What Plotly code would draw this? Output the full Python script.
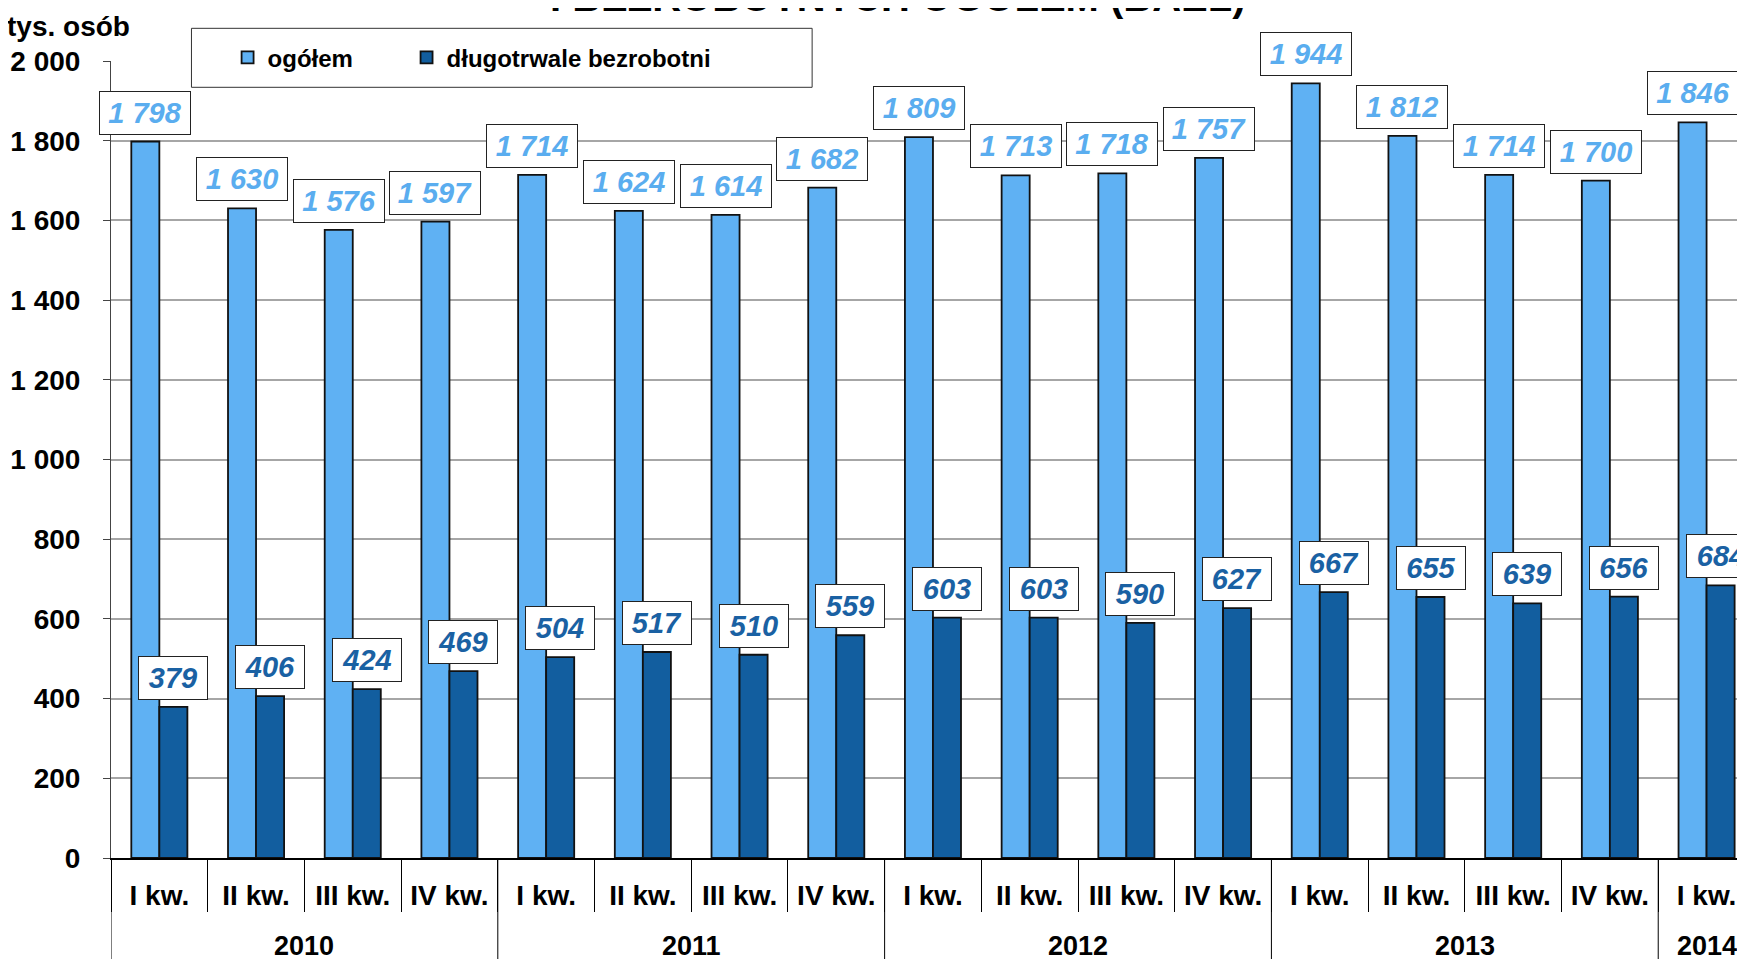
import plotly.graph_objects as go

# data (tys. osob)
years = ["2010", "2011", "2012", "2013", "2014"]
quarters = ["I kw.", "II kw.", "III kw.", "IV kw.",
            "I kw.", "II kw.", "III kw.", "IV kw.",
            "I kw.", "II kw.", "III kw.", "IV kw.",
            "I kw.", "II kw.", "III kw.", "IV kw.",
            "I kw."]
quarters_per_year = [4, 4, 4, 4, 1]
ogolem = [1798, 1630, 1576, 1597, 1714, 1624, 1614, 1682,
          1809, 1713, 1718, 1757, 1944, 1812, 1714, 1700, 1846]
dlugotrwale = [379, 406, 424, 469, 504, 517, 510, 559,
               603, 603, 590, 627, 667, 655, 639, 656, 684]

LIGHT = "#5FB1F3"
DARK = "#125E9F"
LIGHT_TXT = "#5AADEF"
DARK_TXT = "#1A61A3"
FONT = "Liberation Sans"


def fmt(v):
    return format(v, ",").replace(",", " ")


x = list(range(len(quarters)))

fig = go.Figure()
fig.add_trace(go.Bar(x=x, y=ogolem, name="ogółem", legend="legend",
                     marker=dict(color=LIGHT, line=dict(color="#111111", width=1.8))))
fig.add_trace(go.Bar(x=x, y=dlugotrwale, name="długotrwale bezrobotni", legend="legend2",
                     marker=dict(color=DARK, line=dict(color="#111111", width=1.8))))

# boxed value labels
half = (1 - 0.42) / 4
for i in x:
    for val, off, col in ((ogolem[i], -half, LIGHT_TXT), (dlugotrwale[i], half, DARK_TXT)):
        txt = fmt(val)
        fig.add_annotation(x=i + off, y=val, xref="x", yref="y", text=txt,
                           showarrow=False, yanchor="bottom", yshift=7,
                           width=88 if val >= 1000 else 66, height=40,
                           bgcolor="white", bordercolor="#222222", borderwidth=1,
                           font=dict(family=FONT, size=29, color=col,
                                     weight="bold", style="italic"))

# year labels and dividers under the quarter labels
start = 0
for yr, n in zip(years, quarters_per_year):
    fig.add_annotation(x=start + (n - 1) / 2, y=0, xref="x", yref="paper",
                       text=yr, showarrow=False, yanchor="middle", yshift=-88,
                       font=dict(family=FONT, size=27, color="black", weight="bold"))
    fig.add_shape(type="line", xref="x", yref="paper", x0=start - 0.5, x1=start - 0.5,
                  y0=0, y1=-0.14, line=dict(color="black", width=1))
    start += n

# legend frame
fig.add_shape(type="rect", xref="paper", yref="paper", x0=0.049, x1=0.427,
              y0=0.967, y1=1.041, fillcolor="white", layer="above",
              line=dict(color="#333333", width=1))

fig.add_annotation(x=0, y=1, xref="paper", yref="paper", text="tys. osób",
                   showarrow=False, xanchor="left", yanchor="middle",
                   xshift=-106, yshift=35,
                   font=dict(family=FONT, size=28, color="black", weight="bold"))
fig.add_annotation(x=0.479, y=1, xref="paper", yref="paper",
                   text="I BEZROBOTNYCH OGÓŁEM (BAEL)",
                   showarrow=False, yanchor="bottom", yshift=40,
                   font=dict(family=FONT, size=40, color="black", weight="bold"))

legend_font = dict(family=FONT, size=24, color="black", weight="bold")
fig.update_layout(
    width=1745, height=959,
    margin=dict(l=103, r=0, t=53, b=109, autoexpand=False),
    paper_bgcolor="white", plot_bgcolor="white",
    barmode="group", bargap=0.42, bargroupgap=0,
    separators=", ",
    showlegend=True,
    legend=dict(orientation="h", x=0.071, y=1.004, xanchor="left", yanchor="middle",
                bgcolor="rgba(0,0,0,0)", borderwidth=0, font=legend_font),
    legend2=dict(orientation="h", x=0.180, y=1.004, xanchor="left", yanchor="middle",
                 bgcolor="rgba(0,0,0,0)", borderwidth=0, font=legend_font),
    xaxis=dict(range=[-0.5, 16.48], tickvals=x, ticktext=quarters,
               showgrid=False, zeroline=False, ticks="", ticklabelstandoff=11,
               showline=True, linecolor="black", linewidth=2, automargin=False,
               tickfont=dict(family=FONT, size=28, color="black", weight="bold"),
               minor=dict(tick0=0.5, dtick=1, ticks="outside", ticklen=52,
                          tickcolor="black", tickwidth=1, showgrid=False)),
    yaxis=dict(range=[0, 2000], tickvals=list(range(0, 2001, 200)), tickformat=",d",
               showgrid=True, gridcolor="#A6A6A6", gridwidth=1.5, automargin=False,
               zeroline=False, showline=True, linecolor="#444444", linewidth=1,
               ticks="outside", ticklen=7, tickcolor="#444444", ticklabelstandoff=17,
               tickfont=dict(family=FONT, size=28, color="black", weight="bold")),
)

fig.write_html("out.html")
